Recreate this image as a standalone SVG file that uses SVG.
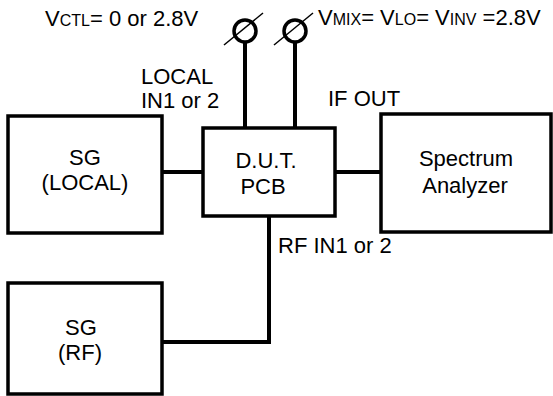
<svg xmlns="http://www.w3.org/2000/svg" width="553" height="396" viewBox="0 0 553 396">
<style>
.box{fill:#fff;stroke:#000;stroke-width:3.5}
.ln{fill:none;stroke:#000;stroke-width:4}
.t{font-family:"Liberation Sans",Arial,sans-serif;font-size:22px;fill:#000}
.c{text-anchor:middle}
.s{font-size:16px}
.ring{fill:none;stroke:#000;stroke-width:3.5}
.slash{stroke:#000;stroke-width:1.5}
</style>
<rect width="553" height="396" fill="#fff"/>
<g id="connectors">
<line class="ln" x1="162" y1="172" x2="203" y2="172"/>
<line class="ln" x1="335" y1="172" x2="381" y2="172"/>
<polyline class="ln" points="269,216 269,342 162,342"/>
<line class="ln" x1="245" y1="42" x2="245" y2="128"/>
<line class="ln" x1="295" y1="42" x2="295" y2="128"/>
</g>
<g id="terminal-ctl">
<circle class="ring" cx="245" cy="31" r="11"/>
<line class="slash" x1="224" y1="45" x2="263" y2="13"/>
</g>
<g id="terminal-mix">
<circle class="ring" cx="295" cy="31" r="11"/>
<line class="slash" x1="274" y1="45" x2="313" y2="13"/>
</g>
<g id="sg-local">
<rect class="box" x="8" y="116" width="154" height="117"/>
<text class="t c" x="85" y="165">SG</text>
<text class="t c" x="85" y="190">(LOCAL)</text>
</g>
<g id="dut">
<rect class="box" x="203" y="128" width="132" height="88"/>
<text class="t c" x="266" y="168">D.U.T.</text>
<text class="t c" x="263" y="194">PCB</text>
</g>
<g id="spectrum-analyzer">
<rect class="box" x="381" y="114" width="170" height="118"/>
<text class="t c" x="466" y="166">Spectrum</text>
<text class="t c" x="465" y="193">Analyzer</text>
</g>
<g id="sg-rf">
<rect class="box" x="8" y="283" width="154" height="111"/>
<text class="t c" x="81" y="335">SG</text>
<text class="t c" x="80" y="360">(RF)</text>
</g>
<g id="labels">
<text class="t" x="45" y="26">V<tspan class="s">CTL</tspan>= 0 or 2.8V</text>
<text class="t" x="318" y="25">V<tspan class="s">MIX</tspan>= V<tspan class="s">LO</tspan>= V<tspan class="s">INV</tspan> =2.8V</text>
<text class="t" x="141" y="84">LOCAL</text>
<text class="t" x="141" y="108">IN1 or 2</text>
<text class="t" x="328" y="106">IF OUT</text>
<text class="t" x="278" y="253">RF IN1 or 2</text>
</g>
</svg>
